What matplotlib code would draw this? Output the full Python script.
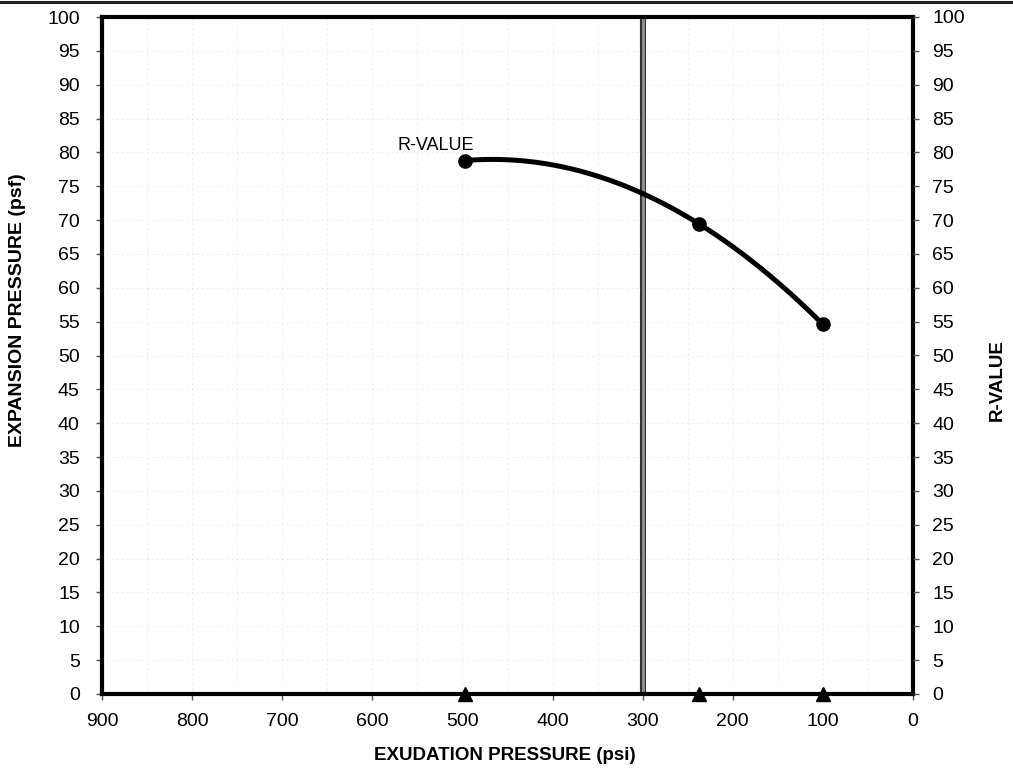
import numpy as np
import matplotlib
matplotlib.use("Agg")
import matplotlib.pyplot as plt
from matplotlib.lines import Line2D

plt.rcParams['font.family'] = ['Liberation Sans', 'DejaVu Sans']

# Test results: exudation pressure (psi) and resulting R-value
exudation_psi = [497, 237, 100]
r_value = [78.8, 69.4, 54.6]
# Expansion pressure (psf) at each test point
expansion_psf = [0, 0, 0]

x_ticks = list(range(0, 901, 100))
y_ticks = list(range(0, 101, 5))
design_exudation = 300  # exudation pressure used for the design R-value

fig = plt.figure(figsize=(10.13, 7.74), dpi=100)
ax = fig.add_axes([102 / 1013, 1 - 694 / 774, 811 / 1013, 677 / 774])

ax.set_xlim(900, 0)
ax.set_ylim(0, 100)
ax.set_xticks(x_ticks)
ax.set_yticks(y_ticks)

# faint dotted grid
for gx in range(50, 900, 50):
    ax.axvline(gx, color='#d2d2d2', lw=0.6, ls=(0, (1, 5)), zorder=0)
for gy in y_ticks[1:-1]:
    ax.axhline(gy, color='#d2d2d2', lw=0.6, ls=(0, (1, 5)), zorder=0)

# design line at 300 psi
ax.axvline(design_exudation, color='#333333', lw=4.4, zorder=2)
ax.axvline(design_exudation, color='#8c8c8c', lw=2.2, zorder=2)

# smooth R-value curve (second-order fit through the test points)
coef = np.polyfit(exudation_psi, r_value, 2)
xs = np.linspace(min(exudation_psi), max(exudation_psi), 200)
ax.plot(xs, np.polyval(coef, xs), color='black', lw=3.6, solid_capstyle='round', zorder=4)
ax.plot(exudation_psi, r_value, 'o', color='black', ms=9.5, zorder=5)
ax.text(487, 79.8, 'R-VALUE', fontsize=13, ha='right', va='bottom', zorder=6)

# expansion pressure points
ax.plot(exudation_psi, expansion_psf, '^', color='black', ms=9.5, clip_on=False, zorder=6)

for s in ax.spines.values():
    s.set_linewidth(3.0)
    s.set_color('black')

ax.tick_params(axis='both', direction='out', length=4, width=1, labelsize=14, color='#555555')
ax.tick_params(axis='y', pad=12)
ax.tick_params(axis='x', pad=10)

ax2 = ax.twinx()
ax2.set_ylim(0, 100)
ax2.set_yticks(y_ticks)
ax2.tick_params(axis='y', direction='out', length=4, width=1, labelsize=14, pad=10, color='#555555')
for s in ax2.spines.values():
    s.set_visible(False)

fig.text(18 / 1013, 1 - 310 / 774, 'EXPANSION PRESSURE (psf)', rotation=90,
         fontsize=14, fontweight='bold', ha='center', va='center')
fig.text(997 / 1013, 1 - 380 / 774, 'R-VALUE', rotation=90,
         fontsize=13.5, fontweight='bold', ha='center', va='center')
fig.text(505 / 1013, 1 - 755 / 774, 'EXUDATION PRESSURE (psi)',
         fontsize=13.5, fontweight='bold', ha='center', va='center')

# page edge line across the top
fig.add_artist(Line2D([0, 1], [1 - 1.5 / 774, 1 - 1.5 / 774], transform=fig.transFigure,
                      color='#222222', lw=2.2))

fig.savefig('out.png', dpi=100)
